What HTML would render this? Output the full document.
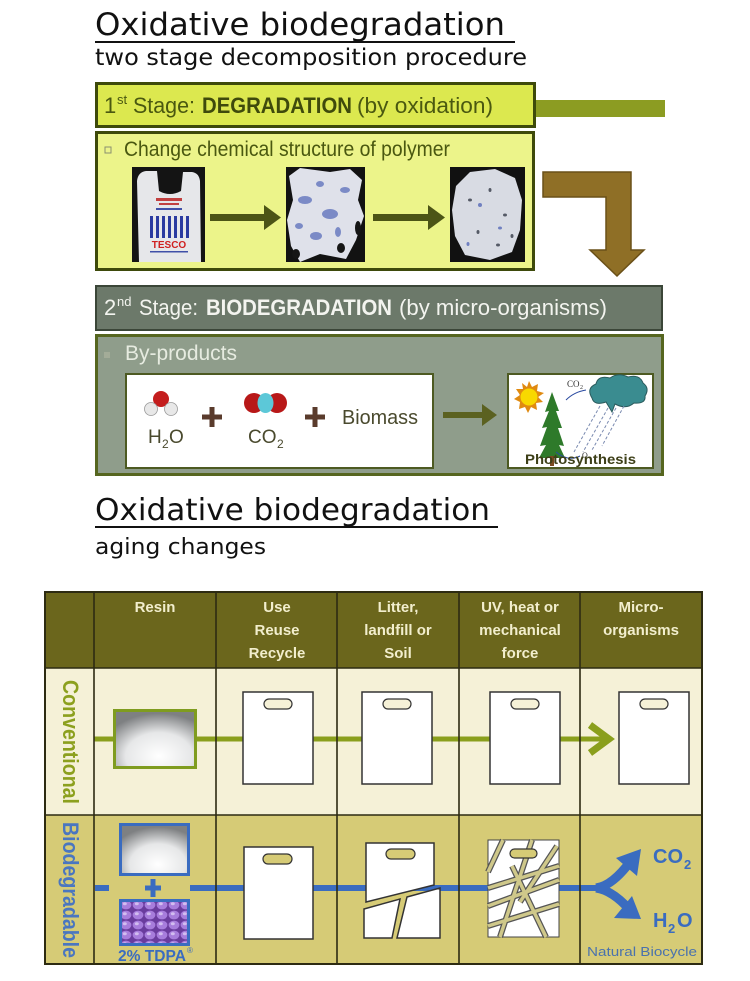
<!DOCTYPE html>
<html><head><meta charset="utf-8"><style>
html,body{margin:0;padding:0;background:#fff;width:750px;height:981px;overflow:hidden}
svg{display:block}
.c{font-family:"Liberation Sans",sans-serif}
.d{font-family:"DejaVu Sans","Liberation Sans",sans-serif}
</style></head><body>
<svg width="750" height="981" viewBox="0 0 750 981" xmlns="http://www.w3.org/2000/svg">
<defs>
<radialGradient id="resin" cx="55%" cy="80%" r="75%">
<stop offset="0" stop-color="#ffffff"/><stop offset="0.55" stop-color="#e6e7e8"/><stop offset="1" stop-color="#7e8082"/>
</radialGradient>
<pattern id="beads" patternUnits="userSpaceOnUse" width="12" height="10">
<rect width="12" height="10" fill="#6a3c9e"/>
<ellipse cx="6" cy="5" rx="5.4" ry="4.4" fill="#a77ddc"/>
<ellipse cx="4.8" cy="3.8" rx="2" ry="1.5" fill="#d2bdf0"/>
</pattern>
</defs>

<!-- Title 1 -->
<text class="d" x="95" y="35" font-size="31" fill="#111" textLength="410" lengthAdjust="spacingAndGlyphs">Oxidative biodegradation</text>
<rect x="95" y="41" width="420" height="2" fill="#111"/>
<text class="d" x="95" y="65" font-size="23" fill="#111" textLength="432" lengthAdjust="spacingAndGlyphs">two stage decomposition procedure</text>

<!-- Stage 1 -->
<rect x="535" y="100" width="130" height="17" fill="#8c9c22"/>
<rect x="96.5" y="83.5" width="438" height="43" fill="#dce84f" stroke="#3e4a0b" stroke-width="3"/>
<g class="c" fill="#4a5810">
<text x="104" y="113" font-size="22">1</text>
<text x="117" y="104" font-size="13">st</text>
<text x="133" y="113" font-size="22" textLength="62" lengthAdjust="spacingAndGlyphs">Stage:</text>
<text x="202" y="113" font-size="22" font-weight="bold" fill="#3f4a0c" textLength="150" lengthAdjust="spacingAndGlyphs">DEGRADATION</text>
<text x="357" y="113" font-size="22" textLength="136" lengthAdjust="spacingAndGlyphs">(by oxidation)</text>
</g>
<rect x="96.5" y="132.5" width="437" height="137" fill="#ecf48a" stroke="#3e4a0b" stroke-width="3"/>
<rect x="105" y="147" width="6" height="6" fill="none" stroke="#8a8f70" stroke-width="1"/>
<text class="c" x="124" y="156" font-size="21" fill="#4a5810" textLength="326" lengthAdjust="spacingAndGlyphs">Change chemical structure of polymer</text>

<!-- photo 1: bag -->
<rect x="132" y="167" width="73" height="95" fill="#141414"/>
<path d="M139,262 L137,181 Q138,172 146,171 L157,171 L159,191 Q170,197 181,191 L183,172 L192,172 Q199,173 200,181 L201,262 Z" fill="#e6e7ea"/>
<rect x="156" y="198" width="26" height="3" fill="#c24040"/>
<rect x="159" y="203" width="20" height="2" fill="#c24040"/>
<rect x="156" y="208" width="26" height="2" fill="#4050a8"/>
<g fill="#2a3aa0">
<rect x="150" y="216" width="3" height="22"/><rect x="156" y="216" width="3" height="22"/><rect x="162" y="216" width="3" height="22"/><rect x="168" y="216" width="3" height="22"/><rect x="174" y="216" width="3" height="22"/><rect x="180" y="216" width="3" height="22"/><rect x="186" y="216" width="3" height="22"/>
</g>
<text class="c" x="169" y="248" font-size="10" font-weight="bold" fill="#d02020" text-anchor="middle">TESCO</text>
<rect x="150" y="251" width="38" height="1.5" fill="#4050a8"/>

<!-- arrow 1 -->
<rect x="210" y="214" width="58" height="7" fill="#4c5416"/>
<polygon points="264,205 281,217.5 264,230" fill="#4c5416"/>

<!-- photo 2 -->
<rect x="286" y="167" width="79" height="95" fill="#121212"/>
<polygon points="289,176 300,168 330,172 350,169 362,180 358,200 364,216 356,240 346,259 320,254 300,262 291,246 287,220 293,200" fill="#dfe1ea"/>
<g fill="#6a7cc0" opacity="0.85">
<ellipse cx="305" cy="200" rx="7" ry="4"/><ellipse cx="330" cy="214" rx="8" ry="5"/><ellipse cx="316" cy="236" rx="6" ry="4"/><ellipse cx="345" cy="190" rx="5" ry="3"/><ellipse cx="299" cy="226" rx="4" ry="3"/><ellipse cx="338" cy="232" rx="3" ry="5"/><ellipse cx="320" cy="184" rx="4" ry="3"/>
</g>
<g fill="#161616">
<ellipse cx="341" cy="248" rx="4" ry="5"/><ellipse cx="296" cy="254" rx="4" ry="5"/><ellipse cx="358" cy="228" rx="3" ry="7"/>
</g>

<!-- arrow 2 -->
<rect x="373" y="214" width="58" height="7" fill="#4c5416"/>
<polygon points="428,205 445,217.5 428,230" fill="#4c5416"/>

<!-- photo 3 -->
<rect x="450" y="167" width="75" height="95" fill="#111"/>
<polygon points="456,186 470,172 495,169 515,178 522,200 520,230 512,252 490,260 465,255 455,236 452,210" fill="#d8dbe3"/>
<g fill="#555a66">
<ellipse cx="470" cy="200" rx="2" ry="1.5"/><ellipse cx="490" cy="190" rx="1.5" ry="2"/><ellipse cx="505" cy="215" rx="2" ry="1.5"/><ellipse cx="478" cy="232" rx="1.5" ry="2"/><ellipse cx="498" cy="245" rx="2" ry="1.5"/><ellipse cx="512" cy="236" rx="1.5" ry="2"/>
</g>
<g fill="#7080c0">
<ellipse cx="480" cy="205" rx="2" ry="2"/><ellipse cx="500" cy="228" rx="2" ry="1.5"/><ellipse cx="468" cy="244" rx="1.5" ry="2"/>
</g>

<!-- brown bent arrow -->
<polygon points="543,172 631,172 631,250 644,250 617,276 590,250 606,250 606,197 543,197" fill="#8f6f26" stroke="#6a5018" stroke-width="1.5"/>

<!-- Stage 2 -->
<rect x="96" y="286" width="566" height="44" fill="#6c796a" stroke="#3b4638" stroke-width="2"/>
<g class="c" fill="#f3f4ef">
<text x="104" y="315" font-size="22">2</text>
<text x="117" y="306" font-size="13">nd</text>
<text x="139" y="315" font-size="22" textLength="59" lengthAdjust="spacingAndGlyphs">Stage:</text>
<text x="206" y="315" font-size="22" font-weight="bold" textLength="186" lengthAdjust="spacingAndGlyphs">BIODEGRADATION</text>
<text x="399" y="315" font-size="22" textLength="208" lengthAdjust="spacingAndGlyphs">(by micro-organisms)</text>
</g>
<rect x="96.5" y="335.5" width="566" height="139" fill="#8f9d8b" stroke="#56661f" stroke-width="3"/>
<rect x="104" y="352" width="6" height="6" fill="#a3ac98"/>
<text class="c" x="125" y="360" font-size="21" fill="#e6ebe0" textLength="112" lengthAdjust="spacingAndGlyphs">By-products</text>

<rect x="126" y="374" width="307" height="94" fill="#fff" stroke="#4d5a22" stroke-width="2"/>
<!-- H2O molecule -->
<circle cx="161" cy="399" r="8" fill="#c41e1e"/>
<circle cx="151" cy="409" r="6.5" fill="#e8e8e8" stroke="#999" stroke-width="0.8"/>
<circle cx="171" cy="409" r="6.5" fill="#e8e8e8" stroke="#999" stroke-width="0.8"/>
<g class="c" fill="#4a4a2e">
<text x="148" y="443" font-size="19">H</text><text x="162" y="448" font-size="12">2</text><text x="169" y="443" font-size="19">O</text>
<text x="248" y="443" font-size="19">CO</text><text x="277" y="448" font-size="12">2</text>
</g>
<!-- CO2 molecule -->
<circle cx="254" cy="403" r="10" fill="#b81818"/>
<circle cx="277" cy="403" r="10" fill="#b81818"/>
<ellipse cx="265.5" cy="403" rx="8" ry="10" fill="#5cc8d8"/>
<!-- plus signs -->
<g fill="#5a3b2c">
<rect x="202" y="414.5" width="20" height="5"/><rect x="209.5" y="407" width="5" height="20"/>
<rect x="305" y="414.5" width="20" height="5"/><rect x="312.5" y="407" width="5" height="20"/>
</g>
<text class="c" x="342" y="424" font-size="20" fill="#4a4a2e" textLength="76" lengthAdjust="spacingAndGlyphs">Biomass</text>
<!-- arrow -->
<rect x="443" y="412" width="42" height="6" fill="#5b6120"/>
<polygon points="482,404 497,415 482,426" fill="#5b6120"/>

<!-- photosynthesis box -->
<rect x="508" y="374" width="145" height="94" fill="#fff" stroke="#4d5a22" stroke-width="2"/>
<polygon points="529,381 532,387 538,384 537,391 544,393 538,397 543,402 536,403 537,410 531,407 528,413 525,407 519,409 520,402 514,399 520,395 516,389 523,389 522,383 527,387" fill="#e08a10"/>
<circle cx="529" cy="397" r="9" fill="#f8d800" stroke="#e08a10" stroke-width="1"/>
<polygon points="552,392 545,412 549,411 542,428 547,427 540,446 546,445 539,458 565,458 559,445 564,446 558,428 562,428 556,411 559,411" fill="#2e7a2a"/>
<rect x="550" y="456" width="4" height="10" fill="#7a4a20"/>
<path d="M592,398 Q586,388 596,384 Q598,375 610,378 Q618,372 628,377 Q640,374 643,383 Q650,388 645,396 Q646,404 634,403 Q626,410 615,404 L612,412 L606,402 Q594,406 592,398 Z" fill="#3a8c90" stroke="#2a5a5c" stroke-width="1"/>
<g stroke="#7a8ab0" stroke-width="1" stroke-dasharray="3,2">
<line x1="600" y1="406" x2="574" y2="452"/><line x1="608" y1="408" x2="583" y2="452"/><line x1="616" y1="408" x2="592" y2="450"/><line x1="624" y1="406" x2="602" y2="446"/>
</g>
<text x="567" y="387" font-family="Liberation Serif,serif" font-size="9" fill="#333">CO</text>
<text x="580" y="389" font-family="Liberation Serif,serif" font-size="6" fill="#333">2</text>
<path d="M586,390 Q574,392 566,400" stroke="#2a4aa0" stroke-width="1" fill="none"/>
<path d="M556,452 Q568,462 580,456" stroke="#2a4aa0" stroke-width="1" fill="none"/>
<text x="582" y="458" font-family="Liberation Serif,serif" font-size="8" fill="#333">O</text>
<text class="c" x="525" y="464" font-size="14" font-weight="bold" fill="#3d3f18" textLength="111" lengthAdjust="spacingAndGlyphs">Photosynthesis</text>

<!-- Title 2 -->
<text class="d" x="95" y="520" font-size="30" fill="#111" textLength="395" lengthAdjust="spacingAndGlyphs">Oxidative biodegradation</text>
<rect x="95" y="526" width="403" height="2" fill="#111"/>
<text class="d" x="95" y="554" font-size="22" fill="#111" textLength="171" lengthAdjust="spacingAndGlyphs">aging changes</text>

<!-- Table -->
<rect x="45" y="592" width="657" height="76" fill="#6b661c"/>
<rect x="45" y="668" width="657" height="147" fill="#f5f1d7"/>
<rect x="45" y="815" width="657" height="149" fill="#d6cb76"/>

<g class="c" font-size="15" font-weight="bold" fill="#f2eecd" text-anchor="middle">
<text x="155" y="612">Resin</text>
<text x="277" y="612">Use</text><text x="277" y="635">Reuse</text><text x="277" y="658">Recycle</text>
<text x="398" y="612">Litter,</text><text x="398" y="635">landfill or</text><text x="398" y="658">Soil</text>
<text x="520" y="612">UV, heat or</text><text x="520" y="635">mechanical</text><text x="520" y="658">force</text>
<text x="641" y="612">Micro-</text><text x="641" y="635">organisms</text>
</g>

<!-- vertical labels -->
<text class="c" transform="translate(63,680) rotate(90)" font-size="22" font-weight="bold" fill="#8ca01e" textLength="124" lengthAdjust="spacingAndGlyphs">Conventional</text>
<text class="c" transform="translate(63,822) rotate(90)" font-size="22" font-weight="bold" fill="#4a76c0" textLength="136" lengthAdjust="spacingAndGlyphs">Biodegradable</text>

<!-- conventional line -->
<rect x="94" y="736.5" width="510" height="5" fill="#8a9f1c"/>
<polyline points="590,725 609,739 590,753" fill="none" stroke="#8a9f1c" stroke-width="7"/>
<rect x="114.5" y="710.5" width="81" height="57" fill="url(#resin)" stroke="#7f9c1f" stroke-width="3"/>
<g stroke="#333" stroke-width="1.5">
<rect x="243" y="692" width="70" height="92" fill="#fff"/>
<rect x="362" y="692" width="70" height="92" fill="#fff"/>
<rect x="490" y="692" width="70" height="92" fill="#fff"/>
<rect x="619" y="692" width="70" height="92" fill="#fff"/>
</g>
<g stroke="#333" stroke-width="1.2" fill="#f5f1d7">
<rect x="264" y="699" width="28" height="10" rx="5"/>
<rect x="383" y="699" width="28" height="10" rx="5"/>
<rect x="511" y="699" width="28" height="10" rx="5"/>
<rect x="640" y="699" width="28" height="10" rx="5"/>
</g>

<!-- biodegradable line -->
<g fill="#3a6cc0">
<rect x="95" y="885" width="14" height="6"/>
<rect x="145" y="885.5" width="16" height="5"/><rect x="150.5" y="879" width="5" height="18"/>
<rect x="190" y="885" width="410" height="6"/>
</g>
<path d="M596,888 Q612,886 630,862" stroke="#3a6cc0" stroke-width="9" fill="none"/>
<polygon points="641,849 637,876 616,858" fill="#3a6cc0"/>
<path d="M596,888 Q612,890 630,910" stroke="#3a6cc0" stroke-width="9" fill="none"/>
<polygon points="641,919 614,918 632,896" fill="#3a6cc0"/>
<g class="c" font-weight="bold" fill="#3a6cc0">
<text x="653" y="863" font-size="20">CO</text><text x="684" y="869" font-size="13">2</text>
<text x="653" y="927" font-size="20">H</text><text x="668" y="933" font-size="13">2</text><text x="677" y="927" font-size="20">O</text>
</g>
<text class="c" x="587" y="956" font-size="13" fill="#4a72ad" textLength="110" lengthAdjust="spacingAndGlyphs">Natural Biocycle</text>

<rect x="120.5" y="824.5" width="68" height="50" fill="url(#resin)" stroke="#3a6cc0" stroke-width="3"/>
<rect x="120.5" y="900.5" width="68" height="44" fill="url(#beads)" stroke="#3a6cc0" stroke-width="3"/>
<text class="c" x="118" y="961" font-size="16" font-weight="bold" fill="#3a6cc0" textLength="68" lengthAdjust="spacingAndGlyphs">2% TDPA</text>
<text class="c" x="187" y="953" font-size="8" fill="#3a6cc0">®</text>

<!-- bio bags -->
<rect x="244" y="847" width="69" height="92" fill="#fff" stroke="#333" stroke-width="1.5"/>
<rect x="263" y="854" width="29" height="10" rx="5" fill="#d6cb76" stroke="#333" stroke-width="1.2"/>

<g stroke="#333" stroke-width="1.5" fill="#fff">
<polygon points="366,843 434,843 434,885 366,902"/>
<polygon points="364,909 400,899 392,938 364,938"/>
<polygon points="407,897 440,888 440,938 397,938"/>
</g>
<rect x="386" y="849" width="29" height="10" rx="5" fill="#d6cb76" stroke="#333" stroke-width="1.2"/>

<rect x="488" y="840" width="71" height="97" fill="#fff" stroke="#444" stroke-width="1"/>
<g stroke="#555" stroke-width="6" fill="none" stroke-linecap="butt">
<line x1="503" y1="840" x2="488" y2="872"/>
<line x1="532" y1="840" x2="500" y2="937"/>
<line x1="557" y1="846" x2="520" y2="902"/>
<line x1="488" y1="906" x2="559" y2="880"/>
<line x1="488" y1="926" x2="559" y2="904"/>
<line x1="512" y1="866" x2="546" y2="937"/>
<line x1="488" y1="888" x2="559" y2="866"/>
</g>
<g stroke="#cfc88a" stroke-width="3.5" fill="none">
<line x1="503" y1="840" x2="488" y2="872"/>
<line x1="532" y1="840" x2="500" y2="937"/>
<line x1="557" y1="846" x2="520" y2="902"/>
<line x1="488" y1="906" x2="559" y2="880"/>
<line x1="488" y1="926" x2="559" y2="904"/>
<line x1="512" y1="866" x2="546" y2="937"/>
<line x1="488" y1="888" x2="559" y2="866"/>
</g>
<rect x="510" y="849" width="27" height="9" rx="4.5" fill="#d6cb76" stroke="#333" stroke-width="1.2"/>

<!-- grid -->
<g stroke="#2d2b12" stroke-width="1.6">
<line x1="94" y1="592" x2="94" y2="964"/>
<line x1="216" y1="592" x2="216" y2="964"/>
<line x1="337" y1="592" x2="337" y2="964"/>
<line x1="459" y1="592" x2="459" y2="964"/>
<line x1="580" y1="592" x2="580" y2="964"/>
<line x1="45" y1="668" x2="702" y2="668"/>
<line x1="45" y1="815" x2="702" y2="815"/>
</g>
<rect x="45" y="592" width="657" height="372" fill="none" stroke="#2d2b12" stroke-width="2"/>
</svg>
</body></html>
